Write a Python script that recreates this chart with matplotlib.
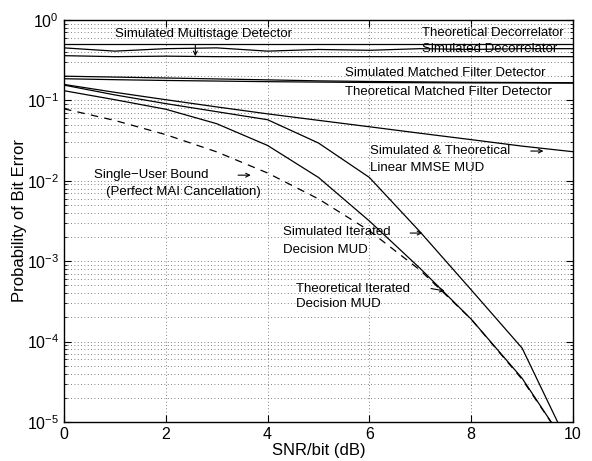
import matplotlib
matplotlib.use("Agg")
import matplotlib.pyplot as plt
import numpy as np

plt.rcParams['font.family'] = ['Liberation Sans', 'DejaVu Sans']
plt.rcParams['mathtext.fontset'] = 'custom'
plt.rcParams['mathtext.rm'] = 'Liberation Sans'
plt.rcParams['mathtext.it'] = 'Liberation Sans:italic'

# SNR/bit (dB)
snr = [0, 1, 2, 3, 4, 5, 6, 7, 8, 9, 10]

# probability of bit error
theo_decorr = [0.50, 0.50, 0.50, 0.50, 0.50, 0.50, 0.50, 0.50, 0.50, 0.50, 0.50]
sim_decorr = [0.45, 0.41, 0.44, 0.45, 0.41, 0.43, 0.42, 0.44, 0.43, 0.44, 0.44]
sim_multistage = [0.36, 0.35, 0.355, 0.35, 0.35, 0.35, 0.35, 0.35, 0.35, 0.35, 0.35]
sim_mf = [0.20, 0.195, 0.19, 0.185, 0.18, 0.175, 0.172, 0.17, 0.168, 0.167, 0.166]
theo_mf = [0.186, 0.181, 0.177, 0.174, 0.171, 0.169, 0.167, 0.166, 0.165, 0.165, 0.164]
mmse = [0.158, 0.126, 0.102, 0.083, 0.068, 0.0565, 0.047, 0.039, 0.0325, 0.027, 0.023]
sim_iter = [0.155, 0.117, 0.0912, 0.0724, 0.0575, 0.0295, 0.011, 2.3e-3, 4.4e-4, 8.3e-5, 4.0e-6]
theo_iter = [0.132, 0.102, 0.0776, 0.0513, 0.0275, 0.011, 3.16e-3, 8.1e-4, 1.9e-4, 3.5e-5, 3.9e-6]
single_user = [0.0786, 0.0563, 0.0375, 0.0229, 0.0125, 5.95e-3, 2.39e-3, 7.7e-4, 1.9e-4, 3.4e-5, 3.9e-6]

fig = plt.figure(figsize=(5.92, 4.61), dpi=100)
ax = fig.add_axes([64/592, 1 - 422/461, 509/592, 402/461])

lw = 0.9
for y in [theo_decorr, sim_decorr, sim_multistage, sim_mf, theo_mf, mmse, sim_iter, theo_iter]:
    ax.semilogy(snr, y, color='k', linewidth=lw)
ax.semilogy(snr, single_user, color='k', linewidth=lw, linestyle=(0, (6, 5)))

ax.set_xlim(0, 10)
ax.set_ylim(1e-5, 1)
ax.set_xticks([0, 2, 4, 6, 8, 10])

ax.grid(True, which='major', axis='both', linestyle=(0, (1, 3)), color='0.35', linewidth=0.6)
ax.grid(True, which='minor', axis='y', linestyle=(0, (1, 3)), color='0.35', linewidth=0.6)
ax.tick_params(which='both', direction='in', top=True, right=True, labelsize=11.5)
ax.tick_params(which='major', length=5)
ax.tick_params(which='minor', length=2.5)
for s in ax.spines.values():
    s.set_linewidth(1.0)

ax.set_xlabel('SNR/bit (dB)', fontsize=12, labelpad=1)
ax.set_ylabel('Probability of Bit Error', fontsize=12)
ax.yaxis.set_label_coords(-0.072, 0.5)

fs = 9.5
ax.text(2.75, 0.67, 'Simulated Multistage Detector', fontsize=fs, ha='center', va='center')
ax.text(7.03, 0.69, 'Theoretical Decorrelator', fontsize=fs, ha='left', va='center')
ax.text(7.03, 0.44, 'Simulated Decorrelator', fontsize=fs, ha='left', va='center')
ax.text(5.52, 0.22, 'Simulated Matched Filter Detector', fontsize=fs, ha='left', va='center')
ax.text(5.52, 0.127, 'Theoretical Matched Filter Detector', fontsize=fs, ha='left', va='center')
ax.text(6.01, 10**-1.63, 'Simulated & Theoretical', fontsize=fs, ha='left', va='center')
ax.text(6.01, 10**-1.84, 'Linear MMSE MUD', fontsize=fs, ha='left', va='center')
ax.text(0.59, 10**-1.93, 'Single\u2212User Bound', fontsize=fs, ha='left', va='center')
ax.text(0.83, 10**-2.14, '(Perfect MAI Cancellation)', fontsize=fs, ha='left', va='center')
ax.text(4.30, 10**-2.64, 'Simulated Iterated', fontsize=fs, ha='left', va='center')
ax.text(4.30, 10**-2.86, 'Decision MUD', fontsize=fs, ha='left', va='center')
ax.text(4.56, 10**-3.35, 'Theoretical Iterated', fontsize=fs, ha='left', va='center')
ax.text(4.56, 10**-3.53, 'Decision MUD', fontsize=fs, ha='left', va='center')

# little pointer arrows
arrows = [
    ((2.58, 10**-0.31), (2.58, 10**-0.45)),
    ((9.17, 10**-1.63), (9.42, 10**-1.63)),
    ((3.42, 10**-1.93), (3.67, 10**-1.93)),
    ((6.80, 10**-2.65), (7.04, 10**-2.65)),
    ((7.21, 10**-3.34), (7.48, 10**-3.37)),
]
for start, end in arrows:
    ax.annotate('', xy=end, xytext=start,
                arrowprops=dict(arrowstyle='->', color='k', lw=0.8,
                                shrinkA=0, shrinkB=0, mutation_scale=7))

fig.savefig('out.png', dpi=100)
